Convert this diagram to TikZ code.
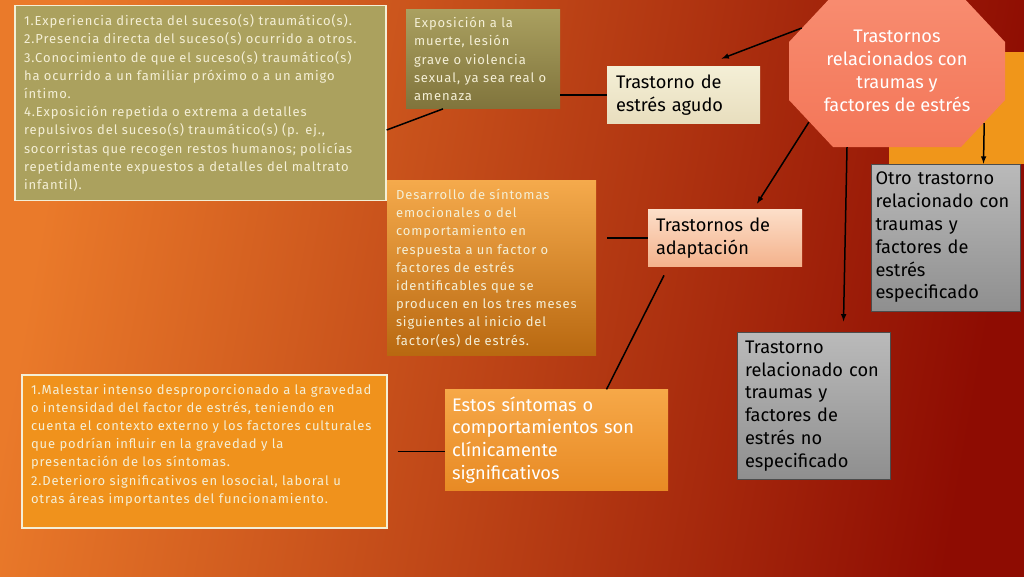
\documentclass[tikz,border=0pt]{standalone}
\usepackage{fontspec}
\setmainfont{Fira Sans}
\newfontfamily\notefont[LetterSpace=7]{Fira Sans}

\definecolor{olive}{HTML}{ABA15E}
\definecolor{olivetop}{HTML}{AAA060}
\definecolor{olivebot}{HTML}{80743C}
\definecolor{cream}{HTML}{F4EFD6}
\definecolor{creambot}{HTML}{E8DEBE}
\definecolor{salmon}{HTML}{F37658}
\definecolor{salmontop}{HTML}{F88C70}
\definecolor{bgorange}{HTML}{EA7A2A}
\definecolor{bgred}{HTML}{C84014}
\definecolor{bgdark}{HTML}{8E0C02}
\definecolor{deco}{HTML}{F0961A}
\definecolor{boxorange}{HTML}{F0921C}
\definecolor{amber}{HTML}{F5AA4C}
\definecolor{amberbot}{HTML}{B86810}
\definecolor{clintop}{HTML}{F6A848}
\definecolor{clinbot}{HTML}{E88A24}
\definecolor{peach}{HTML}{FCDEC8}
\definecolor{peachbot}{HTML}{F4B28C}

\begin{document}
\begin{tikzpicture}[x=1pt,y=-1pt,>=latex,
		note box/.style={rectangle,inner sep=9pt,align=left,anchor=center,text=cream,
			font=\notefont\fontsize{13}{18.2}\selectfont},
		term box/.style={rectangle,inner sep=8pt,align=left,anchor=center,text=black,
			font=\fontsize{18.2}{22.8}\selectfont},
		gray box/.style={term box,draw=black!70,line width=0.8pt,top color=black!27,bottom color=black!44},
		link/.style={line width=1.5pt}]
		% background
		\shade[left color=bgorange,middle color=bgred,right color=bgdark,shading angle=80] (0,0) rectangle (1024,576);
		\useasboundingbox (0,0) rectangle (1024,576);
		\fill[deco] (889,52) rectangle (1024,164);

		% left column
		\node[note box,fill=olive,draw=cream,line width=1.2pt,minimum width=371pt,minimum height=186pt,text width=353pt] (trauma) at (200.5,103)
		{1.Experiencia directa del suceso(s) traumático(s).\\
		2.Presencia directa del suceso(s) ocurrido a otros.\\
		3.Conocimiento de que el suceso(s) traumático(s)\\
		ha ocurrido a un familiar próximo o a un amigo\\
		íntimo.\\
		4.Exposición repetida o extrema a detalles\\
		repulsivos del suceso(s) traumático(s) (p. ej.,\\
		socorristas que recogen restos humanos; policías\\
		repetidamente expuestos a detalles del maltrato\\
		infantil).};
		\node[note box,fill=boxorange,draw=cream,line width=1.2pt,minimum width=365pt,minimum height=153pt] (malestar) at (204.5,451.5)
		{\parbox[c][135pt][t]{347pt}{1.Malestar intenso desproporcionado a la gravedad\\
		o intensidad del factor de estrés, teniendo en\\
		cuenta el contexto externo y los factores culturales\\
		que podrían influir en la gravedad y la\\
		presentación de los síntomas.\\
		2.Deterioro significativos en losocial, laboral u\\
		otras áreas importantes del funcionamiento.}};

		% middle column
		\node[note box,inner sep=8pt,top color=olivetop,bottom color=olivebot,
			minimum width=154pt,minimum height=98pt,text width=138pt] (expo) at (483,59)
		{Exposición a la\\ muerte, lesión\\ grave o violencia\\ sexual, ya sea real o\\ amenaza};
		\node[note box,top color=amber,bottom color=amberbot,
			minimum width=209pt,minimum height=170pt,text width=191pt] (desarrollo) at (491.5,268)
		{Desarrollo de síntomas\\ emocionales o del\\ comportamiento en\\ respuesta a un factor o\\ factores de estrés\\
		identificables que se\\ producen en los tres meses\\ siguientes al inicio del\\ factor(es) de estrés.};
		\node[term box,text=white,inner sep=7pt,top color=clintop,bottom color=clinbot,
			minimum width=223pt,minimum height=100pt,text width=209pt] (clinico) at (556.5,440)
		{Estos síntomas o\\ comportamientos son\\ clínicamente\\ significativos};

		% disorders
		\node[term box,top color=cream,bottom color=creambot,minimum width=153pt,minimum height=54pt,text width=135pt] (agudo) at (683.5,95)
		{Trastorno de\\ estrés agudo};
		\node[term box,top color=peach,bottom color=peachbot,
			minimum width=154pt,minimum height=54pt,text width=138pt] (adaptacion) at (725,238)
		{Trastornos de\\ adaptación};
		\node[gray box,inner xsep=4.5pt,inner ysep=7pt,minimum width=149pt,minimum height=147pt,text width=140pt] (otro) at (945.5,237.5)
		{Otro trastorno\\ relacionado con\\ traumas y\\ factores de\\ estrés\\ especificado};
		\node[gray box,minimum width=153pt,minimum height=146pt,text width=137pt] (noesp) at (813.5,406)
		{Trastorno\\ relacionado con\\ traumas y\\ factores de\\ estrés no\\ especificado};

		% main octagon
		\coordinate (octc) at (897,71);
		\shade[top color=salmontop,bottom color=salmon] (octc) ++(-64,-76) -- ++(128,0) -- ++(44,47) -- ++(0,58)
			-- ++(-44,47) -- ++(-128,0) -- ++(-44,-47) -- ++(0,-58) -- cycle;
		\node[text=white,align=center,minimum width=216pt,minimum height=152pt,
			font=\fontsize{18.2}{22.8}\selectfont] (trastornos) at (octc)
		{Trastornos\\ relacionados con\\ traumas y\\ factores de estrés};

		% connectors
		\path[link] ([yshift=-27pt]trauma.east) edge ([xshift=-40pt]expo.south)
			(expo.east |- agudo.west) edge (agudo.west)
			([xshift=11pt]adaptacion.west -| desarrollo.east) edge (adaptacion.west)
			([xshift=50pt]clinico.north) edge ([xshift=-61pt,yshift=-9pt]adaptacion.south)
			([xshift=10pt]malestar.east) edge (malestar.east -| clinico.west);
		\path[link,->] ([xshift=13pt,yshift=43pt]trastornos.west) edge ([xshift=38pt,yshift=8pt]agudo.north)
			([xshift=20pt,yshift=25pt]trastornos.south west) edge ([xshift=32pt,yshift=6pt]adaptacion.north)
			([xshift=-50pt]trastornos.south) edge ([xshift=30pt,yshift=11pt]noesp.north)
			([xshift=-21pt,yshift=24pt]trastornos.south east) edge ([xshift=38pt]otro.north);
\end{tikzpicture}
\end{document}
